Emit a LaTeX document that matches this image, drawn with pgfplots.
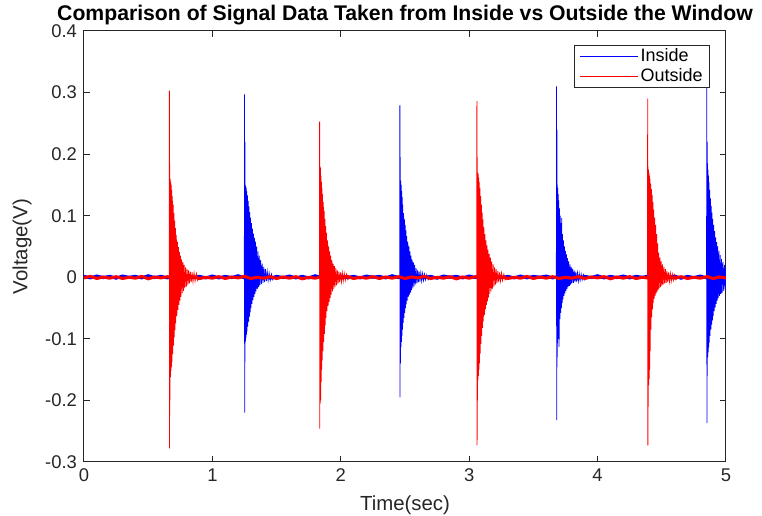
\documentclass[border=0pt]{standalone}
\usepackage{pgfplots}
\pgfplotsset{compat=1.18}
\usepackage{fontspec}
\setmainfont{Liberation Sans}
\definecolor{axgray}{rgb}{0.15,0.15,0.15}
\begin{document}
\begin{tikzpicture}
\begin{axis}[
  scale only axis, width=321pt, height=215.5pt,
  xmin=0, xmax=5, ymin=-0.3, ymax=0.4,
  xtick={0,1,2,3,4,5},
  ytick={-0.3,-0.2,-0.1,0,0.1,0.2,0.3,0.4},
  yticklabel style={/pgf/number format/.cd, fixed, precision=1},
  /pgf/number format/assume math mode=true,
  tick align=inside, major tick length=3pt,
  axis line style={axgray, line width=0.5pt},
  tick style={axgray, line width=0.5pt},
  ticklabel style={font=\fontsize{9.2}{10}\selectfont, text=axgray},
  title={Comparison of Signal Data Taken from Inside vs Outside the Window},
  title style={font=\bfseries\fontsize{10.6}{12}\selectfont, inner sep=1pt},
  every axis title shift=1.8pt,
  xlabel={Time(sec)}, ylabel={Voltage(V)},
  label style={font=\fontsize{10.2}{11}\selectfont, text=axgray},
  legend style={at={(0.975,0.9675)}, anchor=north east, draw=axgray, line width=0.5pt,
    font=\fontsize{9}{10}\selectfont, inner xsep=2.4pt, inner ysep=0.6pt, nodes={inner sep=1pt}},
  legend cell align=left,
  legend image code/.code={\draw[#1, line width=0.5pt] (0pt,0pt) -- (29pt,0pt);},
]
% blue baseline noise
\addplot[blue, line width=1.5pt, forget plot] coordinates {
(0.00,0.0015)(0.05,-0.001)(0.10,0.002)(0.15,-0.0005)(0.20,0.0015)(0.25,-0.0015)(0.30,0.002)(0.35,0.000)(0.40,0.0015)(0.45,-0.001)
(0.50,0.0025)(0.55,-0.0005)(0.60,0.0015)(0.65,-0.001)(0.70,0.001)(0.75,-0.0015)(0.80,0.002)(0.85,-0.0005)(0.90,0.0015)(0.95,-0.001)
(1.00,0.002)(1.05,-0.001)(1.10,0.0015)(1.15,-0.0005)(1.20,0.0025)(1.25,-0.001)(1.30,0.0015)(1.35,0.000)(1.40,0.002)(1.45,-0.0015)
(1.50,0.0015)(1.55,-0.0005)(1.60,0.002)(1.65,-0.001)(1.70,0.0015)(1.75,-0.001)(1.80,0.0025)(1.85,-0.0005)(1.90,0.0015)(1.95,-0.0015)
(2.00,0.002)(2.05,-0.0005)(2.10,0.0015)(2.15,-0.001)(2.20,0.002)(2.25,0.000)(2.30,0.0015)(2.35,-0.001)(2.40,0.0025)(2.45,-0.0005)
(2.50,0.0015)(2.55,-0.001)(2.60,0.002)(2.65,-0.0005)(2.70,0.0015)(2.75,-0.0015)(2.80,0.002)(2.85,0.000)(2.90,0.0015)(2.95,-0.001)
(3.00,0.002)(3.05,-0.0005)(3.10,0.0015)(3.15,-0.001)(3.20,0.0025)(3.25,-0.0005)(3.30,0.0015)(3.35,-0.001)(3.40,0.002)(3.45,-0.001)
(3.50,0.0015)(3.55,0.000)(3.60,0.002)(3.65,-0.001)(3.70,0.0015)(3.75,-0.0005)(3.80,0.002)(3.85,-0.0015)(3.90,0.0015)(3.95,-0.0005)
(4.00,0.0025)(4.05,-0.001)(4.10,0.0015)(4.15,-0.0005)(4.20,0.002)(4.25,-0.001)(4.30,0.0015)(4.35,0.000)(4.40,0.002)(4.45,-0.001)
(4.50,0.0015)(4.55,-0.0005)(4.60,0.002)(4.65,-0.0015)(4.70,0.0015)(4.75,-0.0005)(4.80,0.002)(4.85,-0.001)(4.90,0.0015)(4.95,-0.0005)(5.00,0.0015)
};
% blue bursts (Inside)
\addplot[blue, line width=0.4pt] coordinates {
(0,0)(1.249,0)(1.250,0.297)(1.2515,-0.220)(1.253,0.220)(1.2545,-0.138)
(1.256,0.150)(1.258,-0.104)(1.260,0.148)(1.262,-0.098)(1.264,0.145)(1.266,-0.093)(1.268,0.140)(1.270,-0.088)(1.273,0.133)(1.276,-0.080)
(1.279,0.124)(1.282,-0.072)(1.285,0.115)(1.288,-0.064)(1.291,0.106)(1.294,-0.057)(1.297,0.097)(1.300,-0.050)(1.304,0.088)(1.308,-0.043)
(1.312,0.079)(1.316,-0.037)(1.320,0.071)(1.324,-0.032)(1.328,0.064)(1.332,-0.027)(1.336,0.058)(1.340,-0.023)(1.345,0.050)(1.350,-0.019)
(1.355,0.042)(1.360,-0.016)(1.365,0.035)(1.370,-0.013)(1.376,0.028)(1.382,-0.011)(1.388,0.022)(1.394,-0.009)(1.400,0.017)(1.406,-0.008)
(1.413,0.013)(1.420,-0.006)(1.427,0.009)(1.434,-0.005)(1.442,0.007)(1.450,-0.005)(1.460,0.005)(1.470,-0.004)(1.482,0)
(2.459,0)(2.460,0.279)(2.4615,-0.195)(2.463,0.195)(2.4645,-0.140)
(2.466,0.157)(2.468,-0.113)(2.470,0.150)(2.472,-0.105)(2.474,0.140)(2.476,-0.095)(2.478,0.130)(2.480,-0.085)(2.483,0.118)(2.486,-0.074)
(2.489,0.104)(2.492,-0.066)(2.495,0.094)(2.498,-0.058)(2.501,0.085)(2.504,-0.050)(2.507,0.076)(2.510,-0.044)(2.514,0.067)(2.518,-0.038)
(2.522,0.058)(2.526,-0.032)(2.530,0.050)(2.534,-0.028)(2.538,0.042)(2.542,-0.025)(2.546,0.035)(2.550,-0.021)(2.555,0.029)(2.560,-0.018)
(2.565,0.024)(2.570,-0.015)(2.575,0.020)(2.580,-0.012)(2.586,0.015)(2.592,-0.010)(2.598,0.011)(2.604,-0.008)(2.610,0.009)(2.616,-0.007)
(2.623,0.007)(2.630,-0.006)(2.637,0.006)(2.644,-0.005)(2.652,0.005)(2.660,-0.004)(2.670,0.004)(2.680,-0.004)(2.692,0)
(3.679,0)(3.680,0.310)(3.6815,-0.232)(3.683,0.240)(3.6845,-0.146)
(3.686,0.150)(3.688,-0.107)(3.690,0.145)(3.692,-0.100)(3.694,0.135)(3.696,-0.090)(3.698,0.125)(3.700,-0.113)(3.703,0.112)(3.706,-0.068)
(3.709,0.100)(3.712,-0.058)(3.715,0.088)(3.718,-0.050)(3.721,0.096)(3.724,-0.042)(3.727,0.070)(3.730,-0.036)(3.734,0.060)(3.738,-0.030)
(3.742,0.050)(3.746,-0.026)(3.750,0.043)(3.754,-0.022)(3.758,0.037)(3.762,-0.019)(3.766,0.031)(3.770,-0.016)(3.775,0.026)(3.780,-0.014)
(3.785,0.021)(3.790,-0.012)(3.795,0.017)(3.800,-0.010)(3.806,0.014)(3.812,-0.009)(3.818,0.011)(3.824,-0.008)(3.830,0.009)(3.836,-0.007)
(3.843,0.007)(3.850,-0.006)(3.857,0.006)(3.864,-0.005)(3.872,0.005)(3.880,-0.004)(3.890,0.004)(3.900,-0.004)(3.912,0)
(4.849,0)(4.850,0.330)(4.8515,-0.237)(4.853,0.220)(4.8545,-0.160)
(4.856,0.185)(4.858,-0.130)(4.860,0.175)(4.862,-0.122)(4.864,0.165)(4.866,-0.114)(4.868,0.155)(4.870,-0.106)(4.873,0.142)(4.876,-0.095)
(4.879,0.128)(4.882,-0.085)(4.885,0.116)(4.888,-0.077)(4.891,0.105)(4.894,-0.070)(4.897,0.095)(4.900,-0.063)(4.904,0.085)(4.908,-0.055)
(4.912,0.075)(4.916,-0.049)(4.920,0.065)(4.924,-0.043)(4.928,0.057)(4.932,-0.038)(4.936,0.050)(4.940,-0.034)(4.945,0.043)(4.950,-0.030)
(4.955,0.036)(4.960,-0.027)(4.965,0.030)(4.970,-0.025)(4.976,0.025)(4.982,-0.022)(4.988,0.020)(4.994,-0.020)(5.000,0.016)
};
\addlegendentry{Inside}
% red baseline noise
\addplot[red, line width=1.5pt, forget plot] coordinates {
(0.00,-0.001)(0.05,0.0015)(0.10,-0.002)(0.15,0.0005)(0.20,-0.0015)(0.25,0.001)(0.30,-0.002)(0.35,0.000)(0.40,-0.0015)(0.45,0.0015)
(0.50,-0.0025)(0.55,0.0005)(0.60,-0.001)(0.65,0.001)(0.70,-0.002)(0.75,0.0005)(0.80,-0.0015)(0.85,0.001)(0.90,-0.002)(0.95,0.000)
(1.00,-0.0015)(1.05,0.001)(1.10,-0.002)(1.15,0.0005)(1.20,-0.001)(1.25,0.0015)(1.30,-0.002)(1.35,0.000)(1.40,-0.0015)(1.45,0.001)
(1.50,-0.002)(1.55,0.0005)(1.60,-0.0015)(1.65,0.001)(1.70,-0.0025)(1.75,0.000)(1.80,-0.0015)(1.85,0.001)(1.90,-0.002)(1.95,0.0005)
(2.00,-0.001)(2.05,0.0015)(2.10,-0.002)(2.15,0.000)(2.20,-0.0015)(2.25,0.001)(2.30,-0.002)(2.35,0.0005)(2.40,-0.0015)(2.45,0.001)
(2.50,-0.002)(2.55,0.0005)(2.60,-0.001)(2.65,0.0015)(2.70,-0.002)(2.75,0.000)(2.80,-0.0015)(2.85,0.001)(2.90,-0.0025)(2.95,0.0005)
(3.00,-0.0015)(3.05,0.001)(3.10,-0.002)(3.15,0.0005)(3.20,-0.001)(3.25,0.001)(3.30,-0.002)(3.35,0.000)(3.40,-0.0015)(3.45,0.0015)
(3.50,-0.002)(3.55,0.0005)(3.60,-0.0015)(3.65,0.001)(3.70,-0.002)(3.75,0.000)(3.80,-0.0015)(3.85,0.001)(3.90,-0.002)(3.95,0.0005)
(4.00,-0.001)(4.05,0.001)(4.10,-0.0025)(4.15,0.0005)(4.20,-0.0015)(4.25,0.001)(4.30,-0.002)(4.35,0.000)(4.40,-0.0015)(4.45,0.001)
(4.50,-0.002)(4.55,0.0005)(4.60,-0.0015)(4.65,0.001)(4.70,-0.002)(4.75,0.000)(4.80,-0.0015)(4.85,0.001)(4.90,-0.002)(4.95,0.0005)(5.00,-0.001)
};
% red bursts (Outside)
\addplot[red, line width=0.4pt] coordinates {
(0,0)(0.664,0)(0.665,0.303)(0.6665,-0.278)(0.668,0.185)(0.6695,-0.200)
(0.671,0.160)(0.673,-0.162)(0.675,0.155)(0.677,-0.152)(0.679,0.150)(0.681,-0.146)(0.683,0.142)(0.685,-0.138)(0.688,0.132)(0.691,-0.125)
(0.694,0.118)(0.697,-0.111)(0.700,0.104)(0.703,-0.098)(0.706,0.092)(0.709,-0.086)(0.712,0.080)(0.715,-0.075)(0.719,0.069)(0.723,-0.063)
(0.727,0.058)(0.731,-0.053)(0.735,0.049)(0.739,-0.045)(0.743,0.041)(0.747,-0.038)(0.751,0.035)(0.755,-0.032)(0.760,0.029)(0.765,-0.026)
(0.770,0.024)(0.775,-0.022)(0.780,0.020)(0.785,-0.018)(0.791,0.016)(0.797,-0.015)(0.803,0.013)(0.809,-0.012)(0.815,0.011)(0.821,-0.010)
(0.828,0.009)(0.835,-0.008)(0.842,0.008)(0.849,-0.007)(0.857,0.007)(0.865,-0.006)(0.875,0.006)(0.885,-0.005)(0.897,0)
(1.834,0)(1.835,0.253)(1.8365,-0.246)(1.838,0.180)(1.8395,-0.205)
(1.841,0.178)(1.843,-0.200)(1.845,0.165)(1.847,-0.170)(1.849,0.155)(1.851,-0.150)(1.853,0.145)(1.855,-0.135)(1.858,0.135)(1.861,-0.120)
(1.864,0.122)(1.867,-0.105)(1.870,0.108)(1.873,-0.092)(1.876,0.095)(1.879,-0.078)(1.882,0.083)(1.885,-0.066)(1.889,0.072)(1.893,-0.055)
(1.897,0.060)(1.901,-0.047)(1.905,0.050)(1.909,-0.040)(1.913,0.042)(1.917,-0.034)(1.921,0.035)(1.925,-0.028)(1.930,0.028)(1.935,-0.023)
(1.940,0.022)(1.945,-0.019)(1.950,0.018)(1.955,-0.016)(1.961,0.015)(1.967,-0.013)(1.973,0.011)(1.979,-0.010)(1.985,0.009)(1.991,-0.008)
(1.998,0.008)(2.005,-0.007)(2.012,0.007)(2.019,-0.006)(2.027,0.006)(2.035,-0.005)(2.045,0.005)(2.055,-0.004)(2.067,0)
(3.059,0)(3.060,0.286)(3.0615,-0.273)(3.063,0.195)(3.0645,-0.200)
(3.066,0.170)(3.068,-0.167)(3.070,0.168)(3.072,-0.160)(3.074,0.162)(3.076,-0.150)(3.078,0.155)(3.080,-0.140)(3.083,0.145)(3.086,-0.124)
(3.089,0.132)(3.092,-0.108)(3.095,0.118)(3.098,-0.095)(3.101,0.105)(3.104,-0.082)(3.107,0.094)(3.110,-0.072)(3.114,0.082)(3.118,-0.061)
(3.122,0.070)(3.126,-0.052)(3.130,0.060)(3.134,-0.045)(3.138,0.052)(3.142,-0.039)(3.146,0.045)(3.150,-0.033)(3.155,0.038)(3.160,-0.027)
(3.165,0.032)(3.170,-0.023)(3.175,0.026)(3.180,-0.019)(3.186,0.021)(3.192,-0.015)(3.198,0.016)(3.204,-0.012)(3.210,0.013)(3.216,-0.010)
(3.223,0.010)(3.230,-0.008)(3.237,0.008)(3.244,-0.006)(3.252,0.007)(3.260,-0.005)(3.270,0.005)(3.280,-0.004)(3.292,0)
(4.389,0)(4.390,0.290)(4.3915,-0.273)(4.393,0.180)(4.3945,-0.210)
(4.396,0.175)(4.398,-0.175)(4.400,0.170)(4.402,-0.165)(4.404,0.165)(4.406,-0.150)(4.408,0.160)(4.410,-0.120)(4.413,0.152)(4.416,-0.085)
(4.419,0.143)(4.422,-0.065)(4.425,0.134)(4.428,-0.052)(4.431,0.122)(4.434,-0.042)(4.437,0.110)(4.440,-0.035)(4.444,0.097)(4.448,-0.030)
(4.452,0.085)(4.456,-0.026)(4.460,0.070)(4.464,-0.023)(4.468,0.055)(4.472,-0.020)(4.476,0.040)(4.480,-0.018)(4.485,0.032)(4.490,-0.016)
(4.495,0.026)(4.500,-0.014)(4.505,0.021)(4.510,-0.012)(4.516,0.017)(4.522,-0.010)(4.528,0.013)(4.534,-0.009)(4.540,0.010)(4.546,-0.008)
(4.553,0.008)(4.560,-0.007)(4.567,0.006)(4.574,-0.006)(4.582,0.005)(4.590,-0.005)(4.600,0.004)(4.610,-0.004)(4.622,0)(5,0)
};
\addlegendentry{Outside}
\end{axis}
\pgfresetboundingbox
\path[use as bounding box] ([xshift=-42pt,yshift=-27pt]current axis.south west) rectangle ([xshift=18pt,yshift=15.5pt]current axis.north east);
\end{tikzpicture}
\end{document}
